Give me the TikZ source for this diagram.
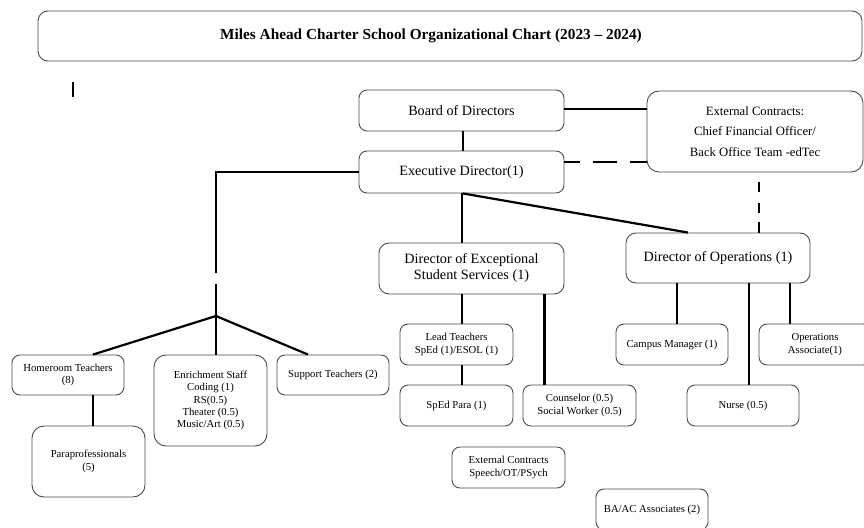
\documentclass[tikz,border=0pt]{standalone}
\usepackage{fontspec}
\setmainfont{Liberation Serif}
\begin{document}
\begin{tikzpicture}[x=1pt,y=-1pt,
  box/.style={draw=black!70,line width=0.9pt,rounded corners=8pt,align=center,inner sep=0pt},
  bigtext/.style={font=\fontsize{14.2}{16}\selectfont},
  midtext/.style={font=\fontsize{12.7}{20.5}\selectfont},
  smalltext/.style={font=\fontsize{10.7}{12.3}\selectfont},
  link/.style={line width=2.2pt,black},
  dlink/.style={line width=2.2pt,black}]
\clip (0,0) rectangle (864,527);
\fill[white] (0,0) rectangle (864,527);
% title
\node[box,rounded corners=10pt,minimum width=824pt,minimum height=50pt,font=\bfseries\fontsize{15.3}{18}\selectfont] (title) at (450,36) {Miles Ahead Charter School Organizational Chart (2023 -- 2024)\hspace*{38pt}};
% stray bar
\coordinate (bartop) at (73,82);
\coordinate (barbot) at (73,97);
\draw[line width=1.6pt] (bartop) -- (barbot);
% upper boxes
\node[box,bigtext,minimum width=205pt,minimum height=41pt] (board) at (461.5,110.5) {Board of Directors};
\node[box,bigtext,minimum width=205pt,minimum height=42pt] (ed) at (461.5,172) {Executive Director(1)};
\node[box,midtext,rounded corners=12pt,minimum width=216pt,minimum height=81pt] (ext) at (755,131.5) {External Contracts:\\Chief Financial Officer/\\Back Office Team -edTec};
\node[box,bigtext,rounded corners=10pt,minimum width=185pt,minimum height=51pt] (dess) at (471.5,268.5) {Director of Exceptional\\Student Services (1)};
\node[box,bigtext,rounded corners=10pt,minimum width=184pt,minimum height=50pt] (doo) at (718,258) {Director of Operations (1)};
% small boxes
\node[box,smalltext,minimum width=113pt,minimum height=41pt] (lead) at (456.5,344.5) {Lead Teachers\\SpEd (1)/ESOL (1)};
\node[box,smalltext,minimum width=113pt,minimum height=41pt] (spedpara) at (456.5,405.5) {SpEd Para (1)};
\node[box,smalltext,minimum width=113pt,minimum height=41pt] (couns) at (579.5,405.5) {Counselor (0.5)\\Social Worker (0.5)};
\node[box,smalltext,minimum width=113pt,minimum height=41pt] (extsp) at (508.5,467.5) {External Contracts\\Speech/OT/PSych};
\node[box,smalltext,minimum width=112pt,minimum height=41pt] (baac) at (652,509.5) {BA/AC Associates (2)};
\node[box,smalltext,minimum width=112pt,minimum height=41pt] (campus) at (672,344.5) {Campus Manager (1)};
\node[box,smalltext,minimum width=112pt,minimum height=41pt] (opsassoc) at (815,344.5) {Operations\\Associate(1)};
\node[box,smalltext,minimum width=112pt,minimum height=41pt] (nurse) at (743,405.5) {Nurse (0.5)};
\node[box,smalltext,minimum width=112pt,minimum height=40pt] (homeroom) at (68,375) {Homeroom Teachers\\(8)};
\node[box,smalltext,rounded corners=12pt,minimum width=113pt,minimum height=71pt] (parapro) at (88.5,461.5) {Paraprofessionals\\(5)};
\node[box,smalltext,rounded corners=12pt,minimum width=113pt,minimum height=91pt] (enrich) at (210.5,400.5) {Enrichment Staff\\Coding (1)\\RS(0.5)\\Theater (0.5)\\Music/Art (0.5)};
\node[box,smalltext,minimum width=112pt,minimum height=40pt] (support) at (333,375) {Support Teachers (2)};
% connectors top
\draw[link] ([xshift=1.5pt]board.south) -- ([xshift=1.5pt]ed.north);
\draw[link] ([yshift=1.5pt]board.east) -- ([yshift=1.5pt]board.east -| ext.west);
\draw[dlink,dash pattern=on 16pt off 13pt on 24pt off 13pt on 40pt off 0pt] ([yshift=10pt]ed.east) -- ([yshift=10pt]ed.east -| ext.west);
\draw[dlink,dash pattern=on 0pt off 10pt on 10pt off 11pt on 10pt off 9pt on 11pt off 0pt] ([xshift=4pt]ext.south) -- ([xshift=4pt]ext.south |- doo.north);
% left branch
\coordinate (lcorner) at (216,172);
\coordinate (lgapA) at (216,273);
\coordinate (lgapB) at (216,284);
\coordinate (junc) at (216,316);
\draw[link] (ed.west) -- (lcorner) -- (lgapA);
\draw[link] (lgapB) -- (junc);
\draw[link] (junc) -- ([xshift=25pt]homeroom.north);
\draw[link] (junc) -- (junc |- enrich.north);
\draw[link] (junc) -- ([xshift=-25pt]support.north);
\draw[link] ([xshift=25pt]homeroom.south) -- ([xshift=25pt]homeroom.south |- parapro.north);
% centre branch
\draw[link] ([xshift=0.5pt]ed.south) -- ([xshift=0.5pt]ed.south |- dess.north);
\draw[link] ([xshift=1.5pt]ed.south) -- ([xshift=-30pt]doo.north);
\draw[link] ([xshift=0.5pt]dess.south -| ed.south) -- ([xshift=0.5pt]lead.north -| ed.south);
\draw[link] ([xshift=-35pt]couns.north |- dess.south) -- ([xshift=-35pt]couns.north);
\draw[link] ([xshift=0.5pt]lead.south -| ed.south) -- ([xshift=0.5pt]spedpara.north -| ed.south);
% operations branch
\draw[link] ([xshift=5pt]campus.north |- doo.south) -- ([xshift=5pt]campus.north);
\draw[link] ([xshift=6pt]nurse.north |- doo.south) -- ([xshift=6pt]nurse.north);
\draw[link] ([xshift=-25pt]opsassoc.north |- doo.south) -- ([xshift=-25pt]opsassoc.north);
\end{tikzpicture}
\end{document}
